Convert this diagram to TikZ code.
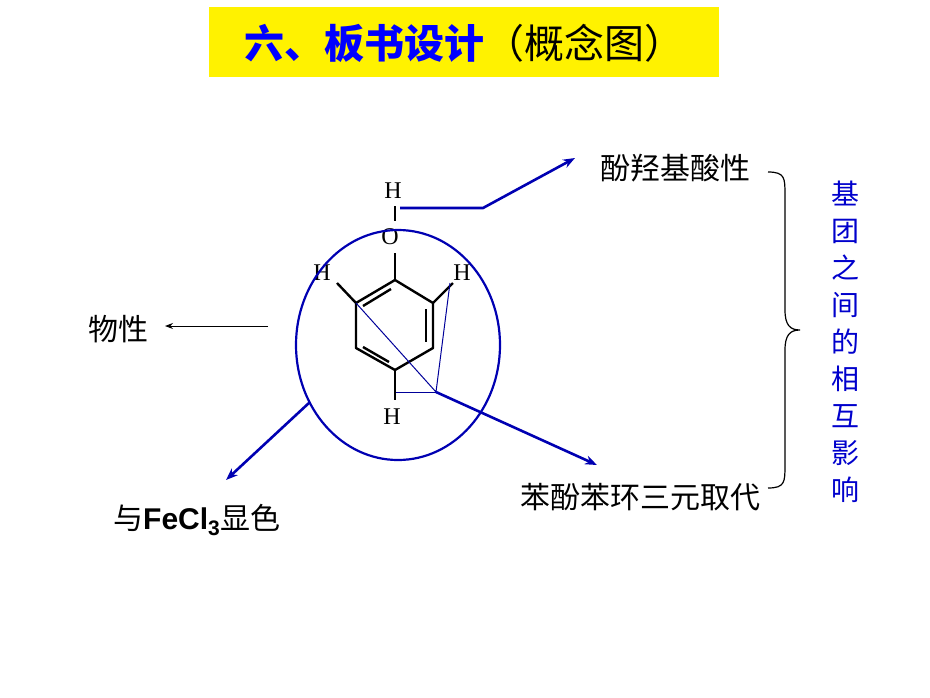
\documentclass[tikz,border=0pt]{standalone}
\usepackage{fontspec}
\usetikzlibrary{shapes.geometric,arrows.meta}
\setmainfont{Liberation Serif}
\newfontfamily\cjk{Noto Sans CJK SC}
\newfontfamily\sansb{Liberation Sans}
\begin{document}
\begin{tikzpicture}[x=1pt,y=-1pt,
  blk/.style={line width=2.4pt,black},
  bl/.style={draw=blue!70!black,line width=2.6pt},
  thinbl/.style={draw=blue!60!black,line width=1pt},
  tip/.style={-{Stealth[length=12pt,width=9pt]}},
  atom/.style={font=\fontsize{24}{24}\selectfont,inner sep=0pt},
  lbl/.style={font=\cjk\fontsize{30}{30}\selectfont,inner sep=0pt}]
\useasboundingbox (0,0) rectangle (930,697);
\fill[yellow] (209,7) rectangle (719,77);
\node[inner sep=0pt] (title) at (464,43) {\cjk\fontsize{40}{40}\selectfont\textcolor{blue}{\bfseries 六、板书设计}（概念图）};
% ring
\coordinate (r1) at (395,280); \coordinate (r2) at (433,303); \coordinate (r3) at (433,348);
\coordinate (r4) at (395,370); \coordinate (r5) at (356,348); \coordinate (r6) at (356,303);
\draw[blk,line join=round] (r1)--(r2)--(r3)--(r4)--(r5)--(r6)--cycle;
\draw[blk] (391,289) -- (363,306);
\draw[blk] (426,309) -- (426,342);
\draw[blk] (389,362) -- (363,347);
\node[atom] (Htop) at (393,191) {H};
\node[atom] (O) at (390,237) {O};
\node[atom] (Hl) at (322,273) {H};
\node[atom] (Hr) at (462,273) {H};
\node[atom] (Hb) at (392,417) {H};
\draw[blk] (395,206)--(395,221);
\draw[blk] (395,253)--(r1);
\draw[blk] (337,283)--(r6);
\draw[blk] (453,283)--(r2);
\draw[blk] (r4)--(395,400);
\node[draw=blue!70!black,line width=2.2pt,ellipse,minimum width=204pt,minimum height=230pt] (ell) at (398,345) {};
% labels
\node[lbl,anchor=west] (acid) at (600,168) {酚羟基酸性};
\node[lbl,anchor=west] (wx) at (88,329) {物性};
\node[lbl,anchor=west] (fe) at (113,520) {与{\sansb\bfseries FeCl\textsubscript{3}}显色};
\node[lbl,anchor=west] (sub) at (520,497) {苯酚苯环三元取代};
\node[font=\cjk\fontsize{28}{37}\selectfont,text=blue!80!black,align=center,inner sep=0pt] (vert) at (845,342) {基\\团\\之\\间\\的\\相\\互\\影\\响};
\draw[line width=1.2pt] (768,172) .. controls (785,172) and (785,178) .. (785,195) -- (785,310) .. controls (785,325) and (790,330) .. (800,330) .. controls (790,330) and (785,335) .. (785,350) -- (785,465) .. controls (785,482) and (785,488) .. (768,488);
% connectors
\coordinate (c1) at (400,208); \coordinate (c2) at (483,208);
\draw[bl,tip] (c1) -- (c2) -- (575,158);
\coordinate (p) at (436,392);
\draw[thinbl] (r6) -- (p) -- (450,283);
\draw[thinbl] (396,392) -- (p);
\draw[bl,tip] (p) -- (597,465);
\draw[bl,tip] (310,402) -- (226,480);
\draw[line width=1pt,-{Stealth[length=8pt,width=6pt]}] (268,326) -- (165,326);
\end{tikzpicture}
\end{document}
